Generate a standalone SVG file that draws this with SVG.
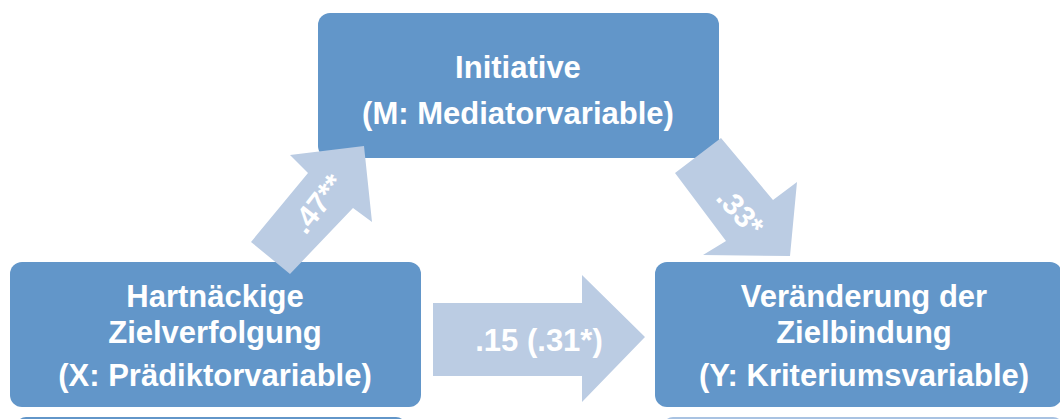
<svg xmlns="http://www.w3.org/2000/svg" width="1060" height="419" viewBox="0 0 1060 419">
  <style>
    .box { fill: #6296C9; }
    .boxlight { fill: #A9C3E2; }
    .arrow { fill: #BBCCE3; }
    .t { font-family: "Liberation Sans", Arial, sans-serif; font-weight: bold; font-size: 31px; fill: #FFFFFF; text-anchor: middle; }
    .a { font-family: "Liberation Sans", Arial, sans-serif; font-weight: bold; font-size: 30px; fill: #FFFFFF; text-anchor: middle; }
  </style>
  <rect width="1060" height="419" fill="#FFFFFF"/>

  <g id="node-partial-left">
    <rect class="box" x="16" y="417" width="390" height="20" rx="10"/>
  </g>
  <g id="node-partial-right">
    <rect class="boxlight" x="663" y="417" width="400" height="20" rx="10"/>
  </g>

  <g id="node-mediator">
    <rect class="box" x="318" y="13" width="401" height="145" rx="12"/>
    <text class="t" x="518" y="78">Initiative</text>
    <text class="t" x="518" y="124">(M: Mediatorvariable)</text>
  </g>

  <g id="node-predictor">
    <rect class="box" x="10" y="262" width="411" height="145" rx="12"/>
    <text class="t" x="215" y="307">Hartnäckige</text>
    <text class="t" x="215" y="343">Zielverfolgung</text>
    <text class="t" x="215" y="386">(X: Prädiktorvariable)</text>
  </g>

  <g id="node-criterion">
    <rect class="box" x="655" y="262" width="407" height="145" rx="12"/>
    <text class="t" x="864" y="307">Veränderung der</text>
    <text class="t" x="864" y="343">Zielbindung</text>
    <text class="t" x="864" y="386">(Y: Kriteriumsvariable)</text>
  </g>

  <g id="connectors">
    <g id="edge-x-m">
      <polygon class="arrow" points="251,242 308,173 290,155 364,146 372,222 353,208 290,274"/>
      <text class="a" transform="translate(318,204) rotate(-52)" x="0" y="10">.47**</text>
    </g>
    <g id="edge-m-y">
      <polygon class="arrow" points="675,173 721,138 773,200 797,182 790,256 703,255 726,241"/>
      <text class="a" transform="translate(740,212) rotate(48)" x="0" y="10">.33*</text>
    </g>
    <g id="edge-x-y">
      <polygon class="arrow" points="433,303 582,303 582,275 645,337 582,402 582,376 433,376"/>
      <text class="a" x="539" y="351" style="font-size:31px">.15 (.31*)</text>
    </g>
  </g>
</svg>
